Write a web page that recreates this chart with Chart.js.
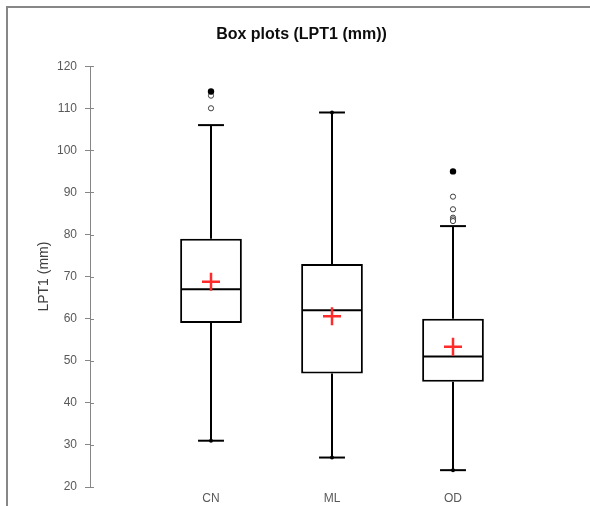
<!DOCTYPE html>
<html>
<head>
<meta charset="utf-8">
<script src="https://cdn.jsdelivr.net/npm/chart.js@4/dist/chart.umd.min.js"></script>
<style>
  html, body { margin: 0; padding: 0; background: #fff; overflow: hidden; }
  #wrap { position: relative; width: 590px; height: 506px; }
  #frame {
    position: absolute; left: 6px; top: 6px; right: -10px; bottom: -10px;
    border-left: 2px solid #878787; border-top: 2px solid #878787;
  }
  #chart { position: absolute; left: 0; top: 0; }
</style>
</head>
<body>
<div id="wrap">
  <div id="frame"></div>
  <canvas id="chart" width="590" height="506"></canvas>
</div>
<script>
/* Box plots of LPT1 (mm) for three groups */

const categories = ["CN", "ML", "OD"];
const q1 = [59, 47, 45];
const median = [67, 62, 51];
const q3 = [79, 73, 60];
const whiskerLow = [31, 27, 24];
const whiskerHigh = [106, 109, 82];
const means = [68.8, 60.6, 53.3];
const minima = [31, 27, 24];
const maxima = [114, 109, 95];
const outliers = [[110, 113], [], [89, 86, 84, 83.6, 83.2]];

const yMin = 20, yMax = 120, yStep = 10;

const boxData = categories.map((c, i) => ({ x: i + 1, y: [q1[i], q3[i]] }));
const meanData = categories.map((c, i) => ({ x: i + 1, y: means[i] }));
const extremeData = [];
categories.forEach((c, i) => {
  extremeData.push({ x: i + 1, y: minima[i] });
  extremeData.push({ x: i + 1, y: maxima[i] });
});
const outlierData = [];
outliers.forEach((list, i) => list.forEach((v) => outlierData.push({ x: i + 1, y: v })));

// median, whiskers and caps, drawn right after the boxes
const boxParts = {
  id: "boxParts",
  afterDatasetDraw(chart, args) {
    if (args.index !== 0) return;
    const { ctx, scales: { x, y } } = chart;
    const bars = args.meta.data;
    ctx.save();
    ctx.strokeStyle = "#000";
    ctx.lineWidth = 2;
    ctx.lineCap = "butt";
    categories.forEach((c, i) => {
      const cx = x.getPixelForValue(i + 1);
      const half = bars[i].width / 2;
      const capHalf = half * 0.42;
      const line = (x1, y1, x2, y2) => {
        ctx.beginPath();
        ctx.moveTo(x1, y1);
        ctx.lineTo(x2, y2);
        ctx.stroke();
      };
      line(cx - half + 1, y.getPixelForValue(median[i]), cx + half - 1, y.getPixelForValue(median[i]));
      line(cx, y.getPixelForValue(q3[i]), cx, y.getPixelForValue(whiskerHigh[i]));
      line(cx, y.getPixelForValue(q1[i]), cx, y.getPixelForValue(whiskerLow[i]));
      line(cx - capHalf, y.getPixelForValue(whiskerHigh[i]), cx + capHalf, y.getPixelForValue(whiskerHigh[i]));
      line(cx - capHalf, y.getPixelForValue(whiskerLow[i]), cx + capHalf, y.getPixelForValue(whiskerLow[i]));
    });
    ctx.restore();
  },
  // inner half of the y tick marks
  afterDraw(chart) {
    const { ctx, scales: { y } } = chart;
    ctx.save();
    ctx.strokeStyle = "#868686";
    ctx.lineWidth = 1;
    y.ticks.forEach((t) => {
      const py = Math.round(y.getPixelForValue(t.value)) + 0.5;
      ctx.beginPath();
      ctx.moveTo(y.right, py);
      ctx.lineTo(y.right + 4, py);
      ctx.stroke();
    });
    ctx.restore();
  },
};

new Chart(document.getElementById("chart"), {
  type: "bar",
  data: {
    datasets: [
      {
        type: "bar",
        data: boxData,
        backgroundColor: "#ffffff",
        borderColor: "#000000",
        borderWidth: 2,
        borderSkipped: false,
        barPercentage: 0.51,
        categoryPercentage: 1,
        order: 4,
      },
      {
        type: "scatter",
        data: extremeData,
        pointStyle: "circle",
        pointRadius: (ctx) => {
          const p = ctx.raw;
          const i = p.x - 1;
          return p.y > whiskerHigh[i] || p.y < whiskerLow[i] ? 3.2 : 2;
        },
        pointBackgroundColor: "#000",
        pointBorderWidth: 0,
        order: 2,
      },
      {
        type: "scatter",
        data: outlierData,
        pointStyle: "circle",
        pointRadius: 2.6,
        pointBackgroundColor: "#fff",
        pointBorderColor: "#404040",
        pointBorderWidth: 1,
        order: 3,
      },
      {
        type: "scatter",
        data: meanData,
        pointStyle: "cross",
        pointRadius: 9,
        pointBorderColor: "#ff2b2b",
        pointBorderWidth: 2.5,
        order: 1,
      },
    ],
  },
  options: {
    responsive: false,
    animation: false,
    events: [],
    layout: { padding: { left: 29, right: 16, top: 0, bottom: 0 } },
    plugins: {
      legend: { display: false },
      tooltip: { enabled: false },
      title: {
        display: true,
        text: "Box plots (LPT1 (mm))",
        color: "#0d0d0d",
        font: { family: "'Liberation Sans', Arial, sans-serif", size: 16, weight: "bold" },
        padding: { top: 25, bottom: 22 },
      },
    },
    scales: {
      x: {
        type: "linear",
        position: "bottom",
        offset: false,
        min: 0,
        max: 4,
        grid: { display: false, drawTicks: false, offset: false },
        border: { display: false },
        ticks: {
          stepSize: 1,
          padding: 4,
          color: "#595959",
          font: { family: "'Liberation Sans', Arial, sans-serif", size: 12 },
          callback: (v) => categories[v - 1] || "",
        },
        afterFit: (scale) => { scale.height = 19; },
      },
      y: {
        type: "linear",
        position: "left",
        min: yMin,
        max: yMax,
        border: { display: true, color: "#868686", width: 1 },
        grid: { drawOnChartArea: false, drawTicks: true, tickLength: 5, color: "#868686" },
        ticks: {
          stepSize: yStep,
          padding: 8,
          color: "#595959",
          font: { family: "'Liberation Sans', Arial, sans-serif", size: 12 },
        },
        title: {
          display: true,
          text: "LPT1 (mm)",
          color: "#404040",
          font: { family: "'Liberation Sans', Arial, sans-serif", size: 14 },
          padding: { top: 6.6, bottom: 0 },
        },
        afterFit: (scale) => { scale.width = 61; },
      },
    },
  },
  plugins: [boxParts],
});
</script>
</body>
</html>
